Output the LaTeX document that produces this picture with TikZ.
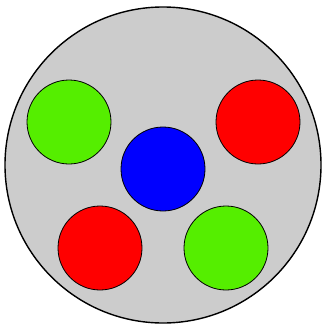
\documentclass[tikz,border=0pt]{standalone}
\definecolor{bggray}{RGB}{204,204,204}
\definecolor{ballgreen}{RGB}{85,238,0}
\definecolor{ballred}{RGB}{255,0,0}
\definecolor{ballblue}{RGB}{0,0,255}
\begin{document}
\begin{tikzpicture}[x=1pt,y=-1pt,
  ball/.style={circle,draw=black,line width=0.8pt,minimum size=84pt,inner sep=0pt}]
\useasboundingbox (0,0) rectangle (323,324);
\node[circle,draw=black,line width=1.4pt,fill=bggray,minimum size=316pt,inner sep=0pt] (plate) at (163,165) {};
\node[ball,fill=ballgreen] (g1) at (69,122) {};
\node[ball,fill=ballred] (r1) at (258,122) {};
\node[ball,fill=ballblue] (b) at (163,169) {};
\node[ball,fill=ballred] (r2) at (100,248) {};
\node[ball,fill=ballgreen] (g2) at (226,248) {};
\end{tikzpicture}
\end{document}
